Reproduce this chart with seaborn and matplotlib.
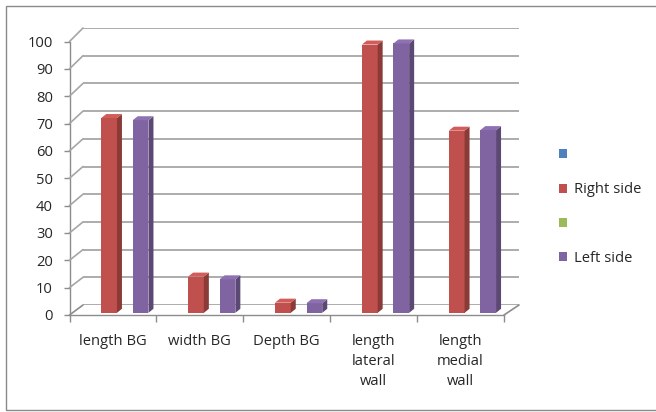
import matplotlib
matplotlib.use("Agg")
import matplotlib.pyplot as plt
import matplotlib.colors as mcolors
from matplotlib.lines import Line2D
from matplotlib.patches import Polygon, Patch, FancyBboxPatch
import seaborn as sns
import pandas as pd

# ---- data ----
categories = ["length BG", "width BG", "Depth BG", "length\nlateral\nwall", "length\nmedial\nwall"]
right_side = [71.0, 13.2, 3.7, 97.8, 66.4]
left_side = [70.2, 12.2, 3.5, 98.2, 66.6]
series_order = ["Series1", "Right side", "Series3", "Left side"]
series_colors = ["#4F81BD", "#C0504D", "#9BBB59", "#8064A2"]
legend_labels = ["", "Right side", "", "Left side"]
y_ticks = list(range(0, 101, 10))

df = pd.DataFrame({
    "category": categories * 2,
    "side": ["Right side"] * len(categories) + ["Left side"] * len(categories),
    "value": right_side + left_side,
})

sns.set_theme(style="white")
plt.rcParams["font.family"] = ["Open Sans", "DejaVu Sans"]
FS = 10.6
TXT = "#262626"
GRID = "#A6A6A6"
AXC = "#8C8C8C"

W, H = 656, 412
fig = plt.figure(figsize=(W / 100, H / 100), dpi=100)
fig.patch.set_facecolor("white")


def rect(x0, x1, y0, y100):
    return [x0 / W, 1 - y0 / H, (x1 - x0) / W, (y0 - y100) / H]


# outer chart border
fig.add_artist(FancyBboxPatch((6 / W, 2 / H), (W + 4 - 6) / W, (408 - 4) / H,
                              boxstyle="square,pad=0", transform=fig.transFigure,
                              fill=False, edgecolor="#8A8A8A", linewidth=1.0))

XLIM = (-0.5, len(categories) - 0.5)

# back wall: gridlines
ax_back = fig.add_axes(rect(83, 519, 305, 28))
ax_back.set_xlim(*XLIM)
ax_back.set_ylim(0, 100)
for v in y_ticks:
    ax_back.axhline(v, color=GRID, lw=1.3, zorder=0)
ax_back.axis("off")

# front frame: value axis, floor edge and category labels
ax_front = fig.add_axes(rect(69.5, 504, 315, 41.5))
ax_front.set_xlim(*XLIM)
ax_front.set_ylim(0, 100)
ax_front.patch.set_alpha(0)
for s in ["top", "right"]:
    ax_front.spines[s].set_visible(False)
for s in ["left", "bottom"]:
    ax_front.spines[s].set_color(AXC)
    ax_front.spines[s].set_linewidth(1.0)
ax_front.set_yticks(y_ticks)
ax_front.set_yticklabels([str(v) for v in y_ticks], fontsize=FS, color=TXT)
ax_front.tick_params(axis="y", length=4, width=1.0, color=AXC, pad=8, left=True)
ax_front.set_xticks(range(len(categories)))
ax_front.set_xticklabels(categories, fontsize=FS, color=TXT, linespacing=1.45, va="top")
ax_front.set_xticks([i - 0.5 for i in range(len(categories) + 1)], minor=True)
ax_front.tick_params(axis="x", which="major", length=0, pad=13.5)
ax_front.tick_params(axis="x", which="minor", length=5, width=1.0, color=AXC, bottom=True)

# side wall and floor edges joining the front frame to the back wall
to_fig = fig.transFigure.inverted()


def edge(xv, yv):
    p0 = to_fig.transform(ax_front.transData.transform((xv, yv)))
    p1 = to_fig.transform(ax_back.transData.transform((xv, yv)))
    fig.add_artist(Line2D([p0[0], p1[0]], [p0[1], p1[1]], transform=fig.transFigure,
                          color=GRID if yv > 0 else AXC, lw=1.2))


for v in y_ticks:
    edge(XLIM[0], v)
edge(XLIM[1], 0)

# bars (front faces) on the mid-depth plane
ax = fig.add_axes(rect(73.5, 508, 312.8, 38.5))
sns.barplot(data=df, x="category", y="value", hue="side", hue_order=series_order,
            order=categories, palette=series_colors, width=0.725, dodge=True,
            saturation=1, legend=False, ax=ax, linewidth=0, err_kws={"linewidth": 0})
ax.set_xlim(*XLIM)
ax.set_ylim(0, 100)
ax.axis("off")
ax.patch.set_alpha(0)

# depth faces of each bar
DX, DY = 5.0, 4.0
for p in list(ax.patches):
    h = p.get_height()
    if not h or h != h:
        continue
    (x0, y0), (x1, y1) = ax.transData.transform([(p.get_x(), 0), (p.get_x() + p.get_width(), h)])
    base = mcolors.to_rgb(p.get_facecolor())
    side = tuple(c * 0.72 for c in base)
    top = tuple(min(1, c * 1.05 + 0.03) for c in base)
    side_pts = [(x1, y0), (x1 + DX, y0 + DY), (x1 + DX, y1 + DY), (x1, y1)]
    top_pts = [(x0, y1), (x1, y1), (x1 + DX, y1 + DY), (x0 + DX, y1 + DY)]
    for pts, col in ((side_pts, side), (top_pts, top)):
        fig.add_artist(Polygon(to_fig.transform(pts), closed=True, transform=fig.transFigure,
                               facecolor=col, edgecolor="none", zorder=3))

# legend
handles = [Patch(facecolor=c, edgecolor="none") for c in series_colors]
fig.legend(handles, legend_labels, loc="center left", bbox_to_anchor=(552 / W, 1 - 207 / H),
           frameon=False, fontsize=FS, labelcolor=TXT, handlelength=0.55, handleheight=0.55,
           handletextpad=0.45, labelspacing=1.31, borderpad=0)

fig.savefig("out.png", dpi=100)
